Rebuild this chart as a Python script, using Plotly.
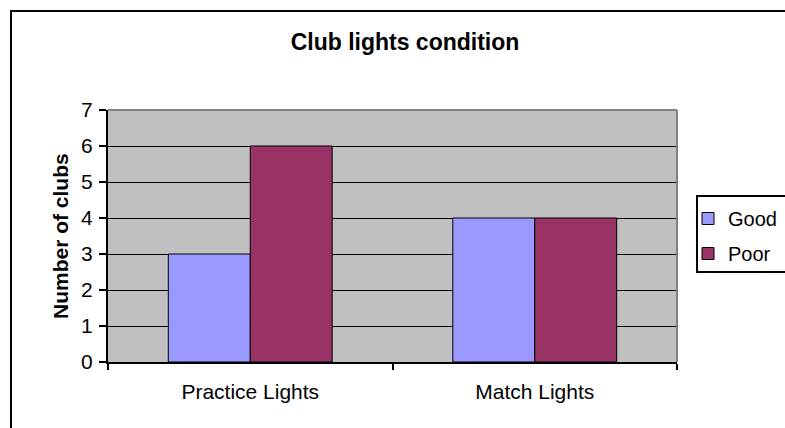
import plotly.graph_objects as go

# Survey data: number of clubs by lighting condition
categories = ["Practice Lights", "Match Lights"]
good = [3, 4]
poor = [6, 4]
series_names = ["Good", "Poor"]
y_ticks = [0, 1, 2, 3, 4, 5, 6, 7]

W, H = 785, 428
L, R, T, B = 108, 108, 110, 66
FONT = "Liberation Sans, Arial, sans-serif"

def px_x(px):
    return (px - L) / (W - L - R)

def px_y(py):
    return (H - B - py) / (H - T - B)

fig = go.Figure()
fig.add_trace(go.Bar(
    x=categories, y=good, name=series_names[0], legendgroup="g",
    marker=dict(color="#9999FF", line=dict(color="black", width=1)),
))
fig.add_trace(go.Bar(
    x=categories, y=poor, name=series_names[1], legendgroup="p",
    marker=dict(color="#993366", line=dict(color="black", width=1)),
))

fig.update_layout(
    width=W, height=H,
    margin=dict(l=L, r=R, t=T, b=B, autoexpand=False),
    paper_bgcolor="white",
    plot_bgcolor="#C0C0C0",
    barmode="group",
    bargap=0.424,
    bargroupgap=0,
    font=dict(family=FONT, size=21, color="black"),
    title=dict(
        text="<b>Club lights condition</b>",
        x=px_x(405), xref="paper", xanchor="center",
        y=1 - 42 / H, yref="container", yanchor="middle",
        font=dict(family=FONT, size=23, color="black"),
    ),
    showlegend=True,
    legend=dict(
        x=px_x(688), xanchor="left", xref="paper",
        y=px_y(236), yanchor="middle",
        bgcolor="rgba(0,0,0,0)", borderwidth=0,
        traceorder="grouped", tracegroupgap=6,
        font=dict(family=FONT, size=20, color="black"),
    ),
    xaxis=dict(
        type="category",
        showgrid=False,
        showline=True, linecolor="black", linewidth=2,
        ticks="outside", tickson="boundaries", ticklen=6,
        tickcolor="black", tickwidth=2,
        ticklabelstandoff=10,
        tickfont=dict(family=FONT, size=21, color="black"),
    ),
    yaxis=dict(
        range=[0, 7], tickvals=y_ticks,
        showgrid=True, gridcolor="black", gridwidth=1,
        showline=True, linecolor="black", linewidth=2,
        ticks="outside", ticklen=7, tickcolor="black", tickwidth=2,
        ticklabelstandoff=2,
        zeroline=False,
        tickfont=dict(family=FONT, size=21, color="black"),
    ),
)

# y-axis title
fig.add_annotation(
    text="<b>Number of clubs</b>", textangle=-90,
    xref="paper", yref="paper", x=px_x(60), y=px_y(236),
    xanchor="center", yanchor="middle", showarrow=False,
    font=dict(family=FONT, size=21, color="black"),
)

# grey plot-area border on top and right
fig.add_shape(type="line", xref="x domain", yref="y domain",
              x0=0, x1=1, y0=1, y1=1, line=dict(color="#808080", width=2))
fig.add_shape(type="line", xref="x domain", yref="y domain",
              x0=1, x1=1, y0=0, y1=1, line=dict(color="#808080", width=2))

# chart-area frame
fig.add_shape(type="rect", xref="paper", yref="paper",
              x0=px_x(11), x1=px_x(800), y0=px_y(11), y1=px_y(440),
              line=dict(color="black", width=2), fillcolor="rgba(0,0,0,0)")
# legend frame
fig.add_shape(type="rect", xref="paper", yref="paper",
              x0=px_x(697), x1=px_x(800), y0=px_y(196), y1=px_y(272),
              line=dict(color="black", width=2), fillcolor="rgba(0,0,0,0)")

fig.write_html("out.html")
